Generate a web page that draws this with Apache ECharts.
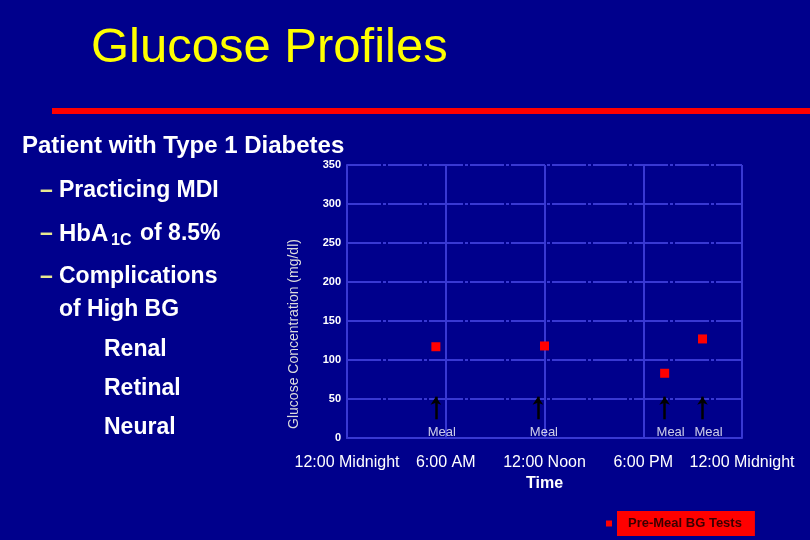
<!DOCTYPE html>
<html>
<head>
<meta charset="utf-8">
<title>Glucose Profiles</title>
<script src="https://cdn.jsdelivr.net/npm/echarts@6.0.0/dist/echarts.min.js"></script>
<style>
  html, body { margin: 0; padding: 0; background: #00008c; }
  #chart { width: 810px; height: 540px; }
</style>
</head>
<body>
<div id="chart"></div>
<script>
// x axis is hours since midnight, one label every 6 h
const timeLabels = ['12:00 Midnight', '6:00 AM', '12:00 Noon', '6:00 PM', '12:00 Midnight'];
const yTicks = [0, 50, 100, 150, 200, 250, 300, 350];

// pre-meal blood glucose tests (hour, mg/dl)
const testHours = [5.4, 12.0, 19.3, 21.6];
const testValues = [117, 118, 83, 127];

// meal arrows: hour, arrow base / tip and label level (mg/dl)
const mealHours = [5.4, 11.6, 19.3, 21.6];
const mealArrowBase = 24;
const mealArrowTip = 53;
const mealLabelLevel = 8;

const FONT = 'Arial, "Liberation Sans", sans-serif';
const gridColor = '#3838d2';

const chart = echarts.init(document.getElementById('chart'));

const bullets = [
    { dash: true, text: 'Practicing MDI', x: 59, y: 191 },
    { dash: true, text: 'Complications', x: 59, y: 277 },
    { dash: false, text: 'of High BG', x: 59, y: 310 },
    { dash: false, text: 'Renal', x: 104, y: 350 },
    { dash: false, text: 'Retinal', x: 104, y: 389 },
    { dash: false, text: 'Neural', x: 104, y: 428 }
];

function txt(x, y, text, font, color) {
    return {
        type: 'text',
        x: x,
        y: y,
        silent: true,
        style: {
            text: text,
            font: font,
            fill: color,
            textAlign: 'left',
            textVerticalAlign: 'middle'
        }
    };
}

const graphics = [
    txt(91, 48, 'Glucose Profiles', '49px ' + FONT, '#ffff00'),
    { type: 'rect', silent: true, shape: { x: 52, y: 108, width: 758, height: 6 }, style: { fill: '#ff0000' } },
    txt(22, 146, 'Patient with Type 1 Diabetes', 'bold 24px ' + FONT, '#ffffff'),
    // HbA1C line with subscript
    txt(40, 234, '\u2013', 'bold 23px ' + FONT, '#e8e890'),
    txt(59, 234, 'HbA', 'bold 24px ' + FONT, '#ffffff'),
    txt(111, 241, '1C', 'bold 16px ' + FONT, '#ffffff'),
    txt(140, 234, 'of 8.5%', 'bold 23px ' + FONT, '#ffffff'),
    // rotated y axis title
    {
        type: 'text',
        x: 294,
        y: 334,
        rotation: Math.PI / 2,
        silent: true,
        style: {
            text: 'Glucose Concentration (mg/dl)',
            font: '14px ' + FONT,
            fill: '#dcdcdc',
            textAlign: 'center',
            textVerticalAlign: 'middle'
        }
    }
];

bullets.forEach(function (b) {
    if (b.dash) {
        graphics.push(txt(40, b.y, '\u2013', 'bold 23px ' + FONT, '#e8e890'));
    }
    graphics.push(txt(b.x, b.y, b.text, 'bold 23px ' + FONT, '#ffffff'));
});

const option = {
    backgroundColor: '#00008c',
    animation: false,
    graphic: graphics,
    legend: {
        data: ['Pre-Meal BG Tests'],
        left: 606,
        top: 511,
        padding: 0,
        icon: 'rect',
        itemWidth: 6,
        itemHeight: 6,
        selectedMode: false,
        itemStyle: { opacity: 1 },
        textStyle: {
            fontFamily: FONT,
            fontWeight: 'bold',
            fontSize: 13,
            color: '#3a0000',
            backgroundColor: '#ff0000',
            padding: [6, 13, 6, 11]
        }
    },
    grid: {
        left: 347,
        right: 68,
        top: 165,
        bottom: 102
    },
    xAxis: {
        type: 'value',
        min: 0,
        max: 24,
        interval: 6,
        name: 'Time',
        nameLocation: 'middle',
        nameGap: 37,
        nameTextStyle: { color: '#ffffff', fontFamily: FONT, fontSize: 16, fontWeight: 'bold' },
        axisLine: { show: true, lineStyle: { color: gridColor, width: 2 } },
        axisTick: { show: false },
        axisLabel: {
            color: '#ffffff',
            fontFamily: FONT,
            fontSize: 16,
            margin: 17,
            formatter: function (v) { return timeLabels[Math.round(v / 6)]; }
        },
        splitLine: { show: true, lineStyle: { color: gridColor, width: 2 } }
    },
    yAxis: {
        type: 'value',
        min: yTicks[0],
        max: yTicks[yTicks.length - 1],
        interval: 50,
        axisLine: { show: true, lineStyle: { color: gridColor, width: 2 } },
        axisTick: { show: false },
        axisLabel: {
            color: '#ffffff',
            fontFamily: FONT,
            fontSize: 11,
            fontWeight: 'bold',
            margin: 6
        },
        splitLine: { show: true, lineStyle: { color: gridColor, width: 2, type: [34, 2, 3, 2] } }
    },
    series: [
        {
            name: 'Pre-Meal BG Tests',
            type: 'scatter',
            symbol: 'rect',
            symbolSize: 9,
            itemStyle: { color: '#ff0000', opacity: 1 },
            data: testHours.map(function (h, i) { return [h, testValues[i]]; }),
            z: 5
        },
        {
            name: 'Meal',
            type: 'scatter',
            symbolSize: 1,
            itemStyle: { color: 'rgba(0,0,0,0)' },
            label: {
                show: true,
                position: 'inside',
                offset: [6, 1],
                formatter: 'Meal',
                color: '#ffffff',
                fontFamily: FONT,
                fontSize: 13
            },
            data: mealHours.map(function (h) { return [h, mealLabelLevel]; }),
            markLine: {
                silent: true,
                symbol: ['none', 'arrow'],
                symbolSize: 8,
                label: { show: false },
                lineStyle: { color: '#000000', width: 2.5, type: 'solid' },
                data: mealHours.map(function (h) {
                    return [{ coord: [h, mealArrowBase] }, { coord: [h, mealArrowTip] }];
                })
            }
        }
    ]
};

chart.setOption(option);
</script>
</body>
</html>
